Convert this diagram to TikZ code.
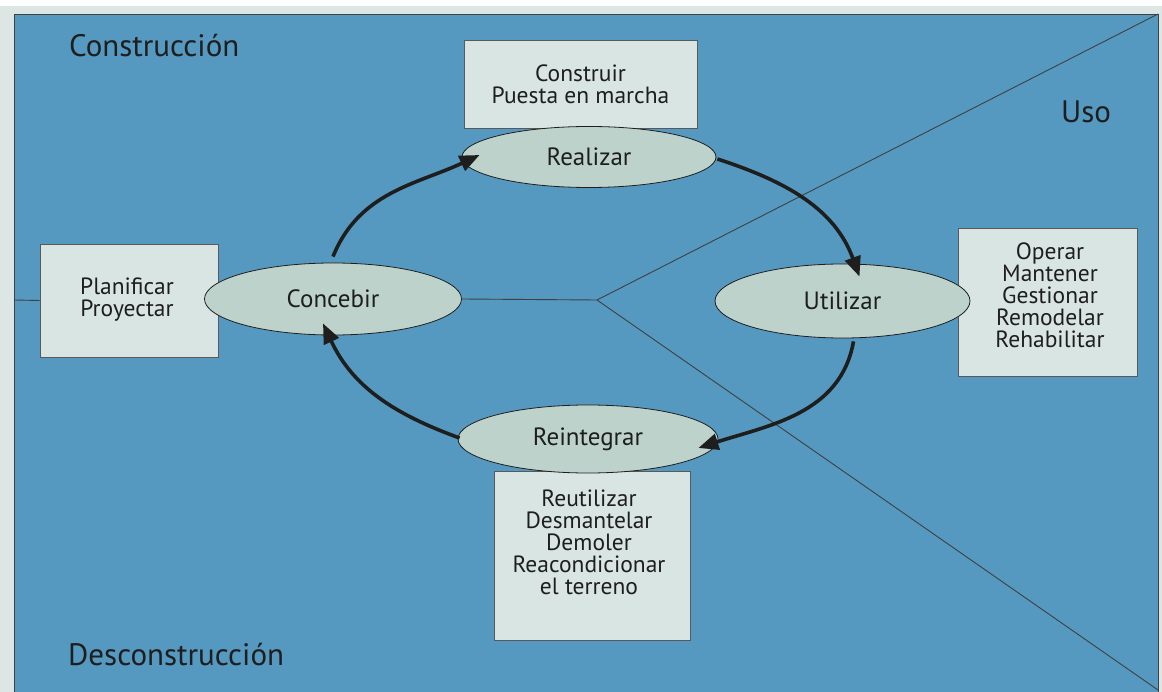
\documentclass[tikz,border=0pt]{standalone}
\usepackage{fontspec}
\setmainfont{PT Sans}
\usetikzlibrary{arrows.meta,shapes.geometric,calc}
\definecolor{panel}{HTML}{5599C0}
\definecolor{boxfill}{HTML}{D9E5E2}
\definecolor{ellfill}{HTML}{BDD2CA}
\definecolor{outerbg}{HTML}{DCE6E3}
\definecolor{ink}{HTML}{1E1E1E}
\begin{document}
\begin{tikzpicture}[x=1pt,y=-1pt,
  infobox/.style={rectangle, draw=gray!70!black, line width=0.8pt, fill=boxfill, inner sep=0pt},
  boxtext/.style={align=center, inner sep=0pt, font=\fontsize{23.5}{22}\selectfont, text=ink},
  phase/.style={ellipse, draw=ink, line width=0.8pt, fill=ellfill, inner sep=0pt, font=\fontsize{25}{26}\selectfont, text=ink},
  region/.style={font=\fontsize{31}{34}\selectfont, text=ink, inner sep=0pt},
  cyclearrow/.style={line width=3.6pt, draw=ink, -{Triangle[length=20pt,width=16pt]}},
  divider/.style={draw=ink!85, line width=0.9pt}]
\useasboundingbox (0,0) rectangle (1162,692);
\fill[outerbg] (0,0) rectangle (1162,692);
\fill[white] (0,0) rectangle (1162,6);
\fill[panel] (14,14) rectangle (1158,692);
\draw[divider] (14,692) -- (14,14) -- (1158,14) -- (1158,692);

% coordinates
\coordinate (junc) at (597,300);
\coordinate (tr) at (1158,14);
\coordinate (br) at (1158,690);
\coordinate (lft) at (14,300);

% boxes
\node[infobox, minimum width=233pt, minimum height=88pt] (cons) at (580.5,84) {};
\node[boxtext] (constext) at (580.5,84) {Construir\\Puesta en marcha};
\node[infobox, minimum width=178pt, minimum height=113pt] (plan) at (129,300.5) {};
\node[boxtext] (plantext) at (127,300) {Planificar\\Proyectar};
\node[infobox, minimum width=179pt, minimum height=148pt] (oper) at (1047.5,302) {};
\node[boxtext] (opertext) at (1050,295) {Operar\\Mantener\\Gestionar\\Remodelar\\Rehabilitar};
\node[infobox, minimum width=196pt, minimum height=169pt] (reut) at (592,555.5) {};
\node[boxtext] (reuttext) at (589,542) {Reutilizar\\Desmantelar\\Demoler\\Reacondicionar\\el terreno};

% ellipses
\node[phase, minimum width=254pt, minimum height=61pt] (real) at (589,157) {Realizar};
\node[phase, minimum width=257pt, minimum height=72pt] (conc) at (333,299) {Concebir};
\node[phase, minimum width=255pt, minimum height=74pt] (util) at (842.5,301) {Utilizar};
\node[phase, minimum width=260pt, minimum height=68pt] (rein) at (588,439) {Reintegrar};

% dividers
\draw[divider] (lft) -- (plan.west);
\draw[divider] (conc.east) -- (junc);
\draw[divider] (junc) -- (tr);
\draw[divider] (junc) -- (br);

% region labels
\node[region, anchor=west] (lcons) at (69,46) {Construcción};
\node[region] (luso) at (1086,112) {Uso};
\node[region, anchor=west] (ldes) at (68,655) {Desconstrucción};

% cycle arrows
\draw[cyclearrow] ($(conc.north)+(0,-6)$) to[out=68,in=205] ($(real.west)+(18,-2)$);
\draw[cyclearrow] ($(real.east)+(1,2)$) to[out=-18,in=110] ($(util.north)+(17,13)$);
\draw[cyclearrow] ($(util.south)+(11,3)$) to[out=-100,in=18] ($(rein.east)+(-20,9)$);
\draw[cyclearrow] ($(rein.west)+(2,-1)$) to[out=160,in=-65] ($(conc.south)+(-10,-12)$);
\end{tikzpicture}
\end{document}
